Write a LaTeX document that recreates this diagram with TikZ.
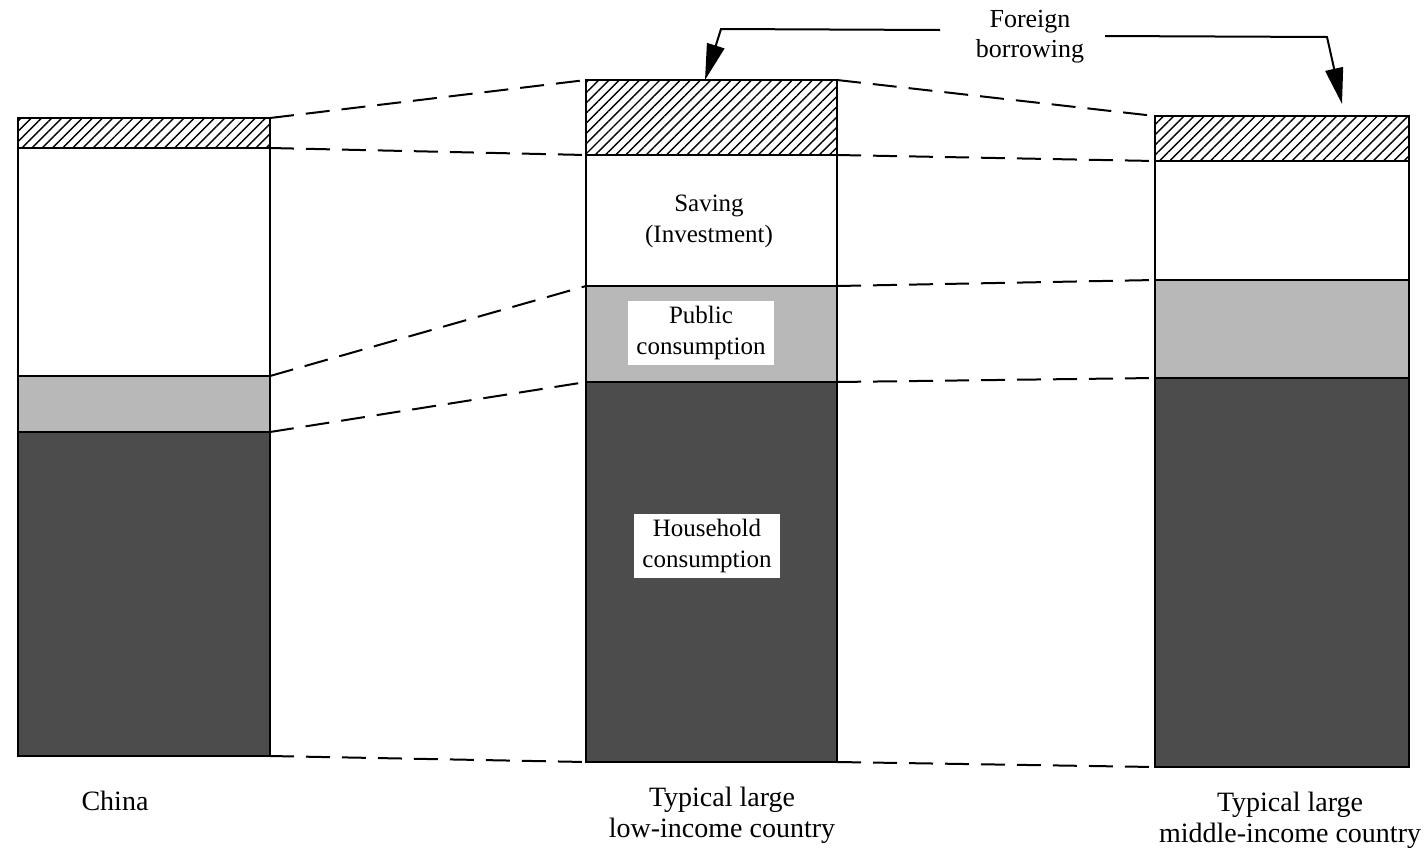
\documentclass[tikz,border=0pt]{standalone}
\usepackage{fontspec}
\setmainfont{Liberation Serif}
\usetikzlibrary{arrows.meta,patterns.meta,fit}

\begin{document}
\begin{tikzpicture}[x=0.5pt,y=-0.5pt,
  band/.style={draw=black, line width=1pt, inner sep=0pt, outer sep=0pt},
  hatchband/.style={band, pattern={Lines[angle=45,distance=3.6pt,line width=0.7pt]}},
  saveband/.style={band, fill=white},
  pubband/.style={band, fill=black!28},
  hhband/.style={band, fill=black!70},
  guide/.style={line width=1pt, dash pattern=on 12pt off 6pt},
  lbl/.style={align=center, font=\fontsize{12.5}{15.5}\selectfont},
  tag/.style={lbl, fill=white, inner xsep=4pt, inner ysep=2.5pt},
  country/.style={align=center, font=\fontsize{14}{15.5}\selectfont},
  fbarrow/.style={line width=1pt, -{Triangle[length=18pt,width=9pt]}}
]
  \useasboundingbox (0,0) rectangle (1428,852);

  % China
  \node[hatchband, fit={(18,118) (270,148)}] (ch) {};
  \node[saveband,  fit={(18,148) (270,376)}] (cs) {};
  \node[pubband,   fit={(18,376) (270,432)}] (cp) {};
  \node[hhband,    fit={(18,432) (270,756)}] (cd) {};

  % typical large low-income country
  \node[hatchband, fit={(586,80) (837,155)}]  (lh) {};
  \node[saveband,  fit={(586,155) (837,286)}] (ls) {};
  \node[pubband,   fit={(586,286) (837,382)}] (lp) {};
  \node[hhband,    fit={(586,382) (837,762)}] (ld) {};

  % typical large middle-income country
  \node[hatchband, fit={(1155,116) (1409,161)}] (mh) {};
  \node[saveband,  fit={(1155,161) (1409,280)}] (ms) {};
  \node[pubband,   fit={(1155,280) (1409,378)}] (mp) {};
  \node[hhband,    fit={(1155,378) (1409,767)}] (md) {};

  % dashed links
  \draw[guide] (ch.north east) -- (lh.north west);
  \draw[guide] (cs.north east) -- (ls.north west);
  \draw[guide] (cp.north east) -- (lp.north west);
  \draw[guide] (cd.north east) -- (ld.north west);
  \draw[guide] (cd.south east) -- (ld.south west);
  \draw[guide] (lh.north east) -- (mh.north west);
  \draw[guide] (ls.north east) -- (ms.north west);
  \draw[guide] (lp.north east) -- (mp.north west);
  \draw[guide] (ld.north east) -- (md.north west);
  \draw[guide] (ld.south east) -- (md.south west);

  % labels
  \node[lbl] (savlbl) at (709,221) {Saving\\(Investment)};
  \node[tag] (publbl) at (701,333) {Public\\consumption};
  \node[tag] (hhlbl)  at (707,546) {Household\\consumption};

  \node[country] (cn)  at (115,801) {China};
  \node[country] (low) at (722,815) {Typical large\\low-income country};
  \node[country] (mid) at (1290,820) {Typical large\\middle-income country};

  % foreign borrowing
  \node[lbl, font=\fontsize{13}{15}\selectfont] (fb) at (1030,37) {Foreign\\borrowing};
  \coordinate (lstart) at (940,30);
  \coordinate (lbend)  at (721,29);
  \coordinate (ltip)   at (705,80);
  \coordinate (rstart) at (1105,36);
  \coordinate (rbend)  at (1327,37);
  \coordinate (rtip)   at (1342,104);
  \draw[fbarrow] (lstart) -- (lbend) -- (ltip);
  \draw[fbarrow] (rstart) -- (rbend) -- (rtip);
\end{tikzpicture}
\end{document}
